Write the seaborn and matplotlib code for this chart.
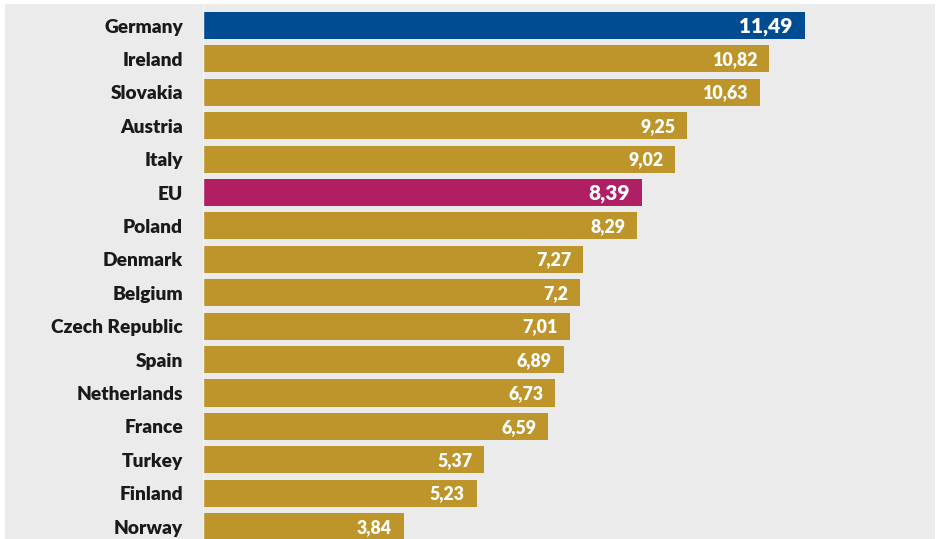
import matplotlib
matplotlib.use("Agg")
import matplotlib.pyplot as plt
import seaborn as sns
import pandas as pd
from matplotlib.patches import Rectangle

# data
countries = ["Germany", "Ireland", "Slovakia", "Austria", "Italy", "EU", "Poland",
             "Denmark", "Belgium", "Czech Republic", "Spain", "Netherlands",
             "France", "Turkey", "Finland", "Norway"]
values = [11.49, 10.82, 10.63, 9.25, 9.02, 8.39, 8.29, 7.27, 7.2, 7.01,
          6.89, 6.73, 6.59, 5.37, 5.23, 3.84]
value_labels = ["11,49", "10,82", "10,63", "9,25", "9,02", "8,39", "8,29", "7,27",
                "7,2", "7,01", "6,89", "6,73", "6,59", "5,37", "5,23", "3,84"]

GOLD = "#BE952B"
BLUE = "#004C93"
MAGENTA = "#B01E63"
BG = "#EBEBEB"
highlight = {"Germany": BLUE, "EU": MAGENTA}

df = pd.DataFrame({"country": countries, "value": values})
palette = {c: highlight.get(c, GOLD) for c in countries}

sns.set_theme(style="white")
plt.rcParams["font.family"] = ["Lato", "DejaVu Sans"]

W, H = 939, 539
fig = plt.figure(figsize=(W / 100, H / 100), dpi=100, facecolor="white")
# grey panel behind everything
fig.patches.append(Rectangle((5 / W, 0), 930 / W, 535 / H, transform=fig.transFigure,
                             facecolor=BG, edgecolor="none", zorder=-10))

ax = fig.add_axes([202.5 / W, 0, (935 - 202.5) / W, 535 / H])
ax.set_facecolor(BG)

sns.barplot(data=df, x="value", y="country", hue="country", palette=palette,
            order=countries, width=0.81, legend=False, ax=ax, saturation=1,
            linewidth=0)

ax.set_xlim(0, (935 - 202.5) / 52.4)
ax.set_ylim(15.37, -0.644)

for i, (v, lab, c) in enumerate(zip(values, value_labels, countries)):
    big = c in highlight
    ax.annotate(lab, xy=(v, i), xytext=(-8.5, -0.5), textcoords="offset points",
                ha="right", va="center", color="white", fontweight="heavy",
                fontsize=15 if big else 12.8)

ax.set_xlabel("")
ax.set_ylabel("")
ax.set_xticks([])
ax.tick_params(axis="y", length=0, pad=14, labelsize=13.8)
for t in ax.get_yticklabels():
    t.set_fontweight("heavy")
    t.set_color("#1a1a1a")
for s in ["top", "right", "bottom"]:
    ax.spines[s].set_visible(False)
ax.spines["left"].set_color("#f3f3f3")
ax.spines["left"].set_linewidth(1)

fig.savefig("out.png", dpi=100, facecolor="white")
